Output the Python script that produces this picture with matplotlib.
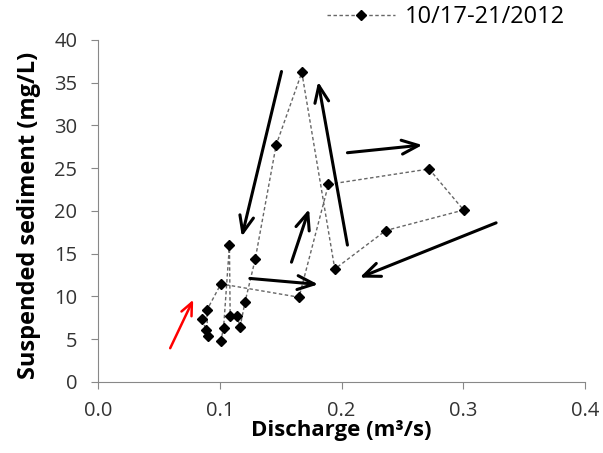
import matplotlib
matplotlib.use("Agg")
import matplotlib.pyplot as plt

plt.rcParams['font.family'] = ['Open Sans', 'DejaVu Sans']

# discharge (m3/s) and suspended sediment (mg/L), in time order
discharge = [0.0851, 0.0887, 0.0898, 0.0893, 0.1008, 0.165, 0.1892, 0.2719,
             0.3003, 0.2363, 0.1944, 0.1673, 0.1462, 0.129, 0.1207, 0.1166,
             0.1139, 0.1084, 0.1078, 0.103, 0.1008]
sediment = [7.3, 6.1, 5.4, 8.4, 11.46, 9.9, 23.1, 24.9,
            20.1, 17.7, 13.2, 36.2, 27.7, 14.35, 9.39, 6.47,
            7.7, 7.7, 16.0, 6.35, 4.83]

# hysteresis arrows: (start, end)
black_arrows = [((0.1506, 36.3), (0.118, 17.0)),
                ((0.2048, 16.0), (0.1807, 35.1)),
                ((0.2048, 26.8), (0.2664, 27.7)),
                ((0.327, 18.6), (0.2149, 12.2)),
                ((0.1588, 14.0), (0.1733, 20.2)),
                ((0.1246, 12.1), (0.1807, 11.4))]
red_arrow = ((0.0591, 3.94), (0.078, 9.6))

fig = plt.figure(figsize=(6.03, 4.53), dpi=100)
ax = fig.add_axes([0.163, 0.157, 0.807, 0.755])

ax.plot(discharge, sediment, linestyle=(0, (2.5, 1.8)), color='#666666', linewidth=1,
        marker='D', markersize=5, markerfacecolor='black', markeredgecolor='black',
        label='10/17-21/2012')

for (x0, y0), (x1, y1) in black_arrows:
    ax.annotate('', xy=(x1, y1), xytext=(x0, y0),
                arrowprops=dict(arrowstyle='->,head_length=1.2,head_width=0.5',
                                color='black', lw=2.2, shrinkA=0, shrinkB=0))
(x0, y0), (x1, y1) = red_arrow
ax.annotate('', xy=(x1, y1), xytext=(x0, y0),
            arrowprops=dict(arrowstyle='->,head_length=0.9,head_width=0.4',
                            color='red', lw=1.8, shrinkA=0, shrinkB=0))

ax.set_xlim(0, 0.4)
ax.set_ylim(0, 40)
ax.set_xticks([0.0, 0.1, 0.2, 0.3, 0.4])
ax.set_xticklabels(['0.0', '0.1', '0.2', '0.3', '0.4'])
ax.set_yticks(range(0, 41, 5))

for s in ['top', 'right']:
    ax.spines[s].set_visible(False)
for s in ['left', 'bottom']:
    ax.spines[s].set_color('#888888')
ax.tick_params(colors='#888888', labelcolor='#333333', labelsize=14.5, length=5)
ax.tick_params(axis='x', pad=9)
ax.tick_params(axis='y', pad=10)

ax.set_xlabel('Discharge (m³/s)', fontsize=16, fontweight='bold')
ax.xaxis.set_label_coords(0.5, -0.112)
ax.set_ylabel('Suspended sediment (mg/L)', fontsize=17, fontweight='bold')
ax.yaxis.set_label_coords(-0.117, 0.488)

fig.legend(loc='center left', bbox_to_anchor=(327 / 603, 1 - 17 / 453), frameon=False,
           fontsize=17, handlelength=2.9, handletextpad=0.38, borderpad=0, borderaxespad=0)

fig.savefig('out.png', dpi=100)
